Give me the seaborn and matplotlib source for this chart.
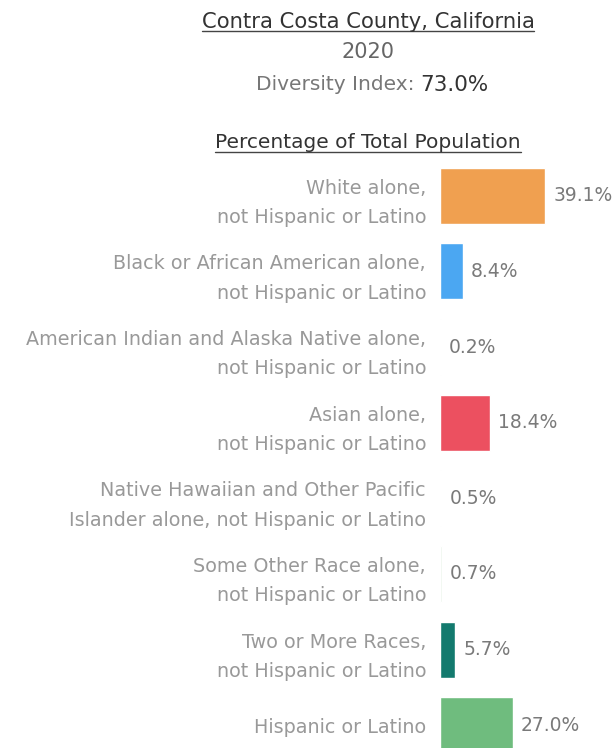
import seaborn as sns
import matplotlib.pyplot as plt
import pandas as pd
from matplotlib.lines import Line2D

# data
groups = ['White alone,\nnot Hispanic or Latino',
          'Black or African American alone,\nnot Hispanic or Latino',
          'American Indian and Alaska Native alone,\nnot Hispanic or Latino',
          'Asian alone,\nnot Hispanic or Latino',
          'Native Hawaiian and Other Pacific\nIslander alone, not Hispanic or Latino',
          'Some Other Race alone,\nnot Hispanic or Latino',
          'Two or More Races,\nnot Hispanic or Latino',
          'Hispanic or Latino']
pct = [39.1, 8.4, 0.2, 18.4, 0.5, 0.7, 5.7, 27.0]
colors = ['#F0A050', '#4BA7F2', '#F2F2F2', '#EC5060', '#F8E4E4', '#EAF4EA', '#137A6E', '#6FBC7E']
county = 'Contra Costa County, California'
year = '2020'
diversity = 73.0

df = pd.DataFrame({'group': groups, 'pct': pct})

sns.set_style('white')
plt.rcParams['font.family'] = ['DejaVu Sans']

fig = plt.figure(figsize=(6.16, 7.48), dpi=100)
W, H = 616, 748
# axes: zero line at x=440, rows centred 196..725 px from top
top_px, bot_px = 158, 763
ax = fig.add_axes([440 / W, (H - bot_px) / H, 1 - 440 / W, (bot_px - top_px) / H])

sns.barplot(data=df, y='group', x='pct', hue='group', palette=colors, saturation=1,
            orient='h', width=0.74, legend=False, ax=ax)
ax.set_xlim(0, 65.4)
ax.set_ylim(len(groups) - 0.5, -0.5)
sns.despine(ax=ax, left=True, bottom=True)
ax.set_xticks([])
ax.set_xlabel('')
ax.set_ylabel('')
ax.tick_params(axis='y', length=0, pad=10)
for lab in ax.get_yticklabels():
    lab.set_color('#999999')
    lab.set_fontsize(13.8)
    lab.set_linespacing(1.68)
    lab.set_ha('right')

for i, v in enumerate(pct):
    ax.annotate(f'{v:.1f}%', (v, i), xytext=(6, 0), textcoords='offset points',
                va='center', ha='left', fontsize=13.5, color='#7a7a7a')

# header texts
cx = 368 / W
t1 = fig.text(cx, 1 - 22 / H, county, ha='center', va='center', fontsize=15.2, color='#333333')
fig.text(cx, 1 - 52 / H, year, ha='center', va='center', fontsize=15, color='#666666')
fig.text(415 / W, 1 - 85 / H, 'Diversity Index:', ha='right', va='center', fontsize=14.5, color='#777777')
fig.text(420 / W, 1 - 85 / H, f'{diversity:.1f}%', ha='left', va='center', fontsize=15.5, color='#333333')
t2 = fig.text(cx, 1 - 143 / H, 'Percentage of Total Population', ha='center', va='center',
              fontsize=14.5, color='#333333')

# underline the two headings
fig.canvas.draw()
r = fig.canvas.get_renderer()
for t in (t1, t2):
    bb = t.get_window_extent(r)
    y = (bb.y0 + 1) / H
    fig.add_artist(Line2D([bb.x0 / W, bb.x1 / W], [y, y], color='#444444', lw=1.0,
                          transform=fig.transFigure))

fig.savefig('out.png', dpi=100)
